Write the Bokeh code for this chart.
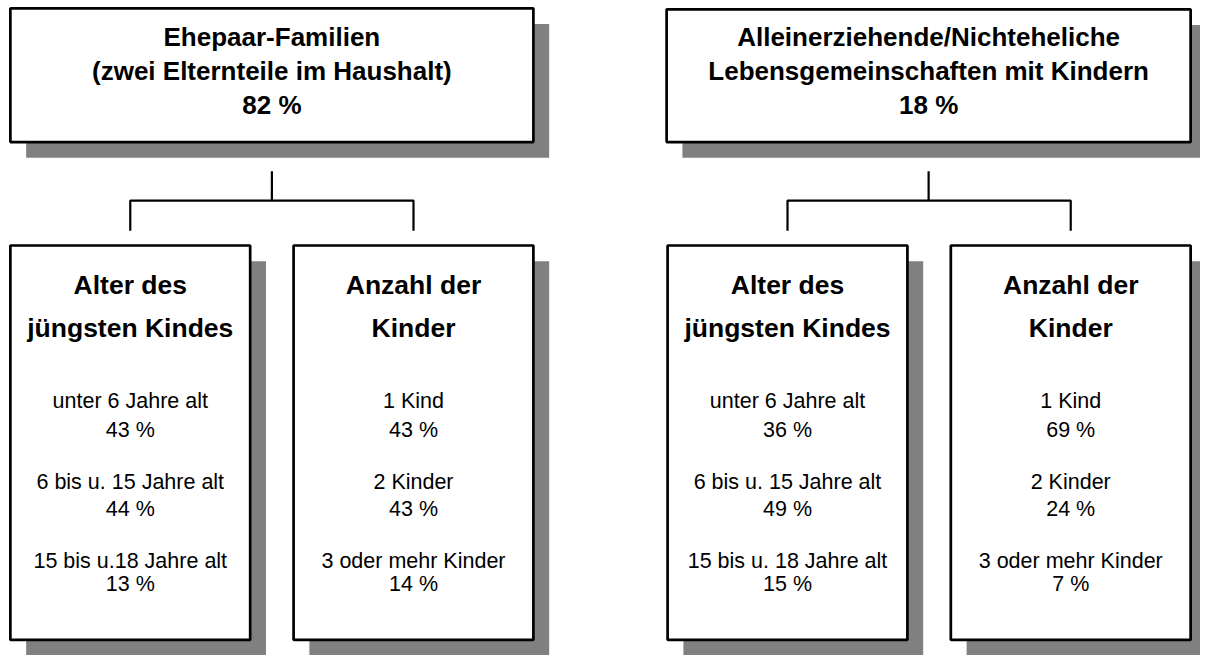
from bokeh.plotting import figure
from bokeh.models import Range1d
from bokeh.core.properties import value
from bokeh.embed import file_html
from bokeh.resources import INLINE

# ---- data ----
group_title_1 = ["Ehepaar-Familien", "Alleinerziehende/Nichteheliche"]
group_title_2 = ["(zwei Elternteile im Haushalt)", "Lebensgemeinschaften mit Kindern"]
group_share = [82, 18]

age_header = ["Alter des", "jüngsten Kindes"]
age_labels = [["unter 6 Jahre alt", "6 bis u. 15 Jahre alt", "15 bis u.18 Jahre alt"],
              ["unter 6 Jahre alt", "6 bis u. 15 Jahre alt", "15 bis u. 18 Jahre alt"]]
age_share = [[43, 44, 13], [36, 49, 15]]

kids_header = ["Anzahl der", "Kinder"]
kids_labels = ["1 Kind", "2 Kinder", "3 oder mehr Kinder"]
kids_share = [[43, 43, 14], [69, 24, 7]]

# ---- layout ----
W, H = 1200, 655
p = figure(width=W, height=H, output_backend="svg", toolbar_location=None,
           x_range=Range1d(0, 1216), y_range=Range1d(671, 0),
           min_border=0, outline_line_color=None)
p.axis.visible = False
p.grid.visible = False
p.background_fill_color = "white"
p.border_fill_color = "white"

FONT = value("Liberation Sans")
SH = 16  # shadow offset

top_boxes = [(10, 540, 8, 145), (675, 1206, 9, 145)]
sub_boxes = [[(10, 253, 251, 655), (297, 540, 251, 655)],
             [(676, 919, 251, 655), (963, 1206, 251, 655)]]

def box(l, r, t, b):
    p.quad(left=l + SH, right=r + SH, top=t + SH, bottom=b + SH,
           fill_color="#808080", line_color=None)
    p.quad(left=l, right=r, top=t, bottom=b, fill_color="white",
           line_color="black", line_width=2.7)

def txt(x, y, s, size, bold=False):
    p.text(x=[x], y=[y], text=[s], text_font=FONT, text_font_size=f"{size}px",
           text_font_style="bold" if bold else "normal", text_align="center",
           text_baseline="middle", text_color="black")

for g in range(2):
    l, r, t, b = top_boxes[g]
    box(l, r, t, b)
    cx = (l + r) / 2
    txt(cx, 37, group_title_1[g], 26, True)
    txt(cx, 72, group_title_2[g], 26, True)
    txt(cx, 107, f"{group_share[g]} %", 26, True)

    # connectors
    c1 = sum(sub_boxes[g][0][:2]) / 2
    c2 = sum(sub_boxes[g][1][:2]) / 2
    p.line([cx, cx], [175, 205], line_color="black", line_width=2.2)
    p.line([c1, c1, c2, c2], [236, 205, 205, 236], line_color="black", line_width=2.2)

    headers = [age_header, kids_header]
    labels = [age_labels[g], kids_labels]
    shares = [age_share[g], kids_share[g]]
    for k in range(2):
        l, r, t, b = sub_boxes[g][k]
        box(l, r, t, b)
        cx2 = (l + r) / 2
        txt(cx2, 291, headers[k][0], 26.5, True)
        txt(cx2, 336, headers[k][1], 26.5, True)
        ys = [(410, 440), (493, 521), (574, 598)]
        for i in range(3):
            txt(cx2, ys[i][0], labels[k][i], 21.5)
            txt(cx2, ys[i][1], f"{shares[k][i]} %", 21.5)

open("out.html", "w").write(file_html(p, INLINE))
